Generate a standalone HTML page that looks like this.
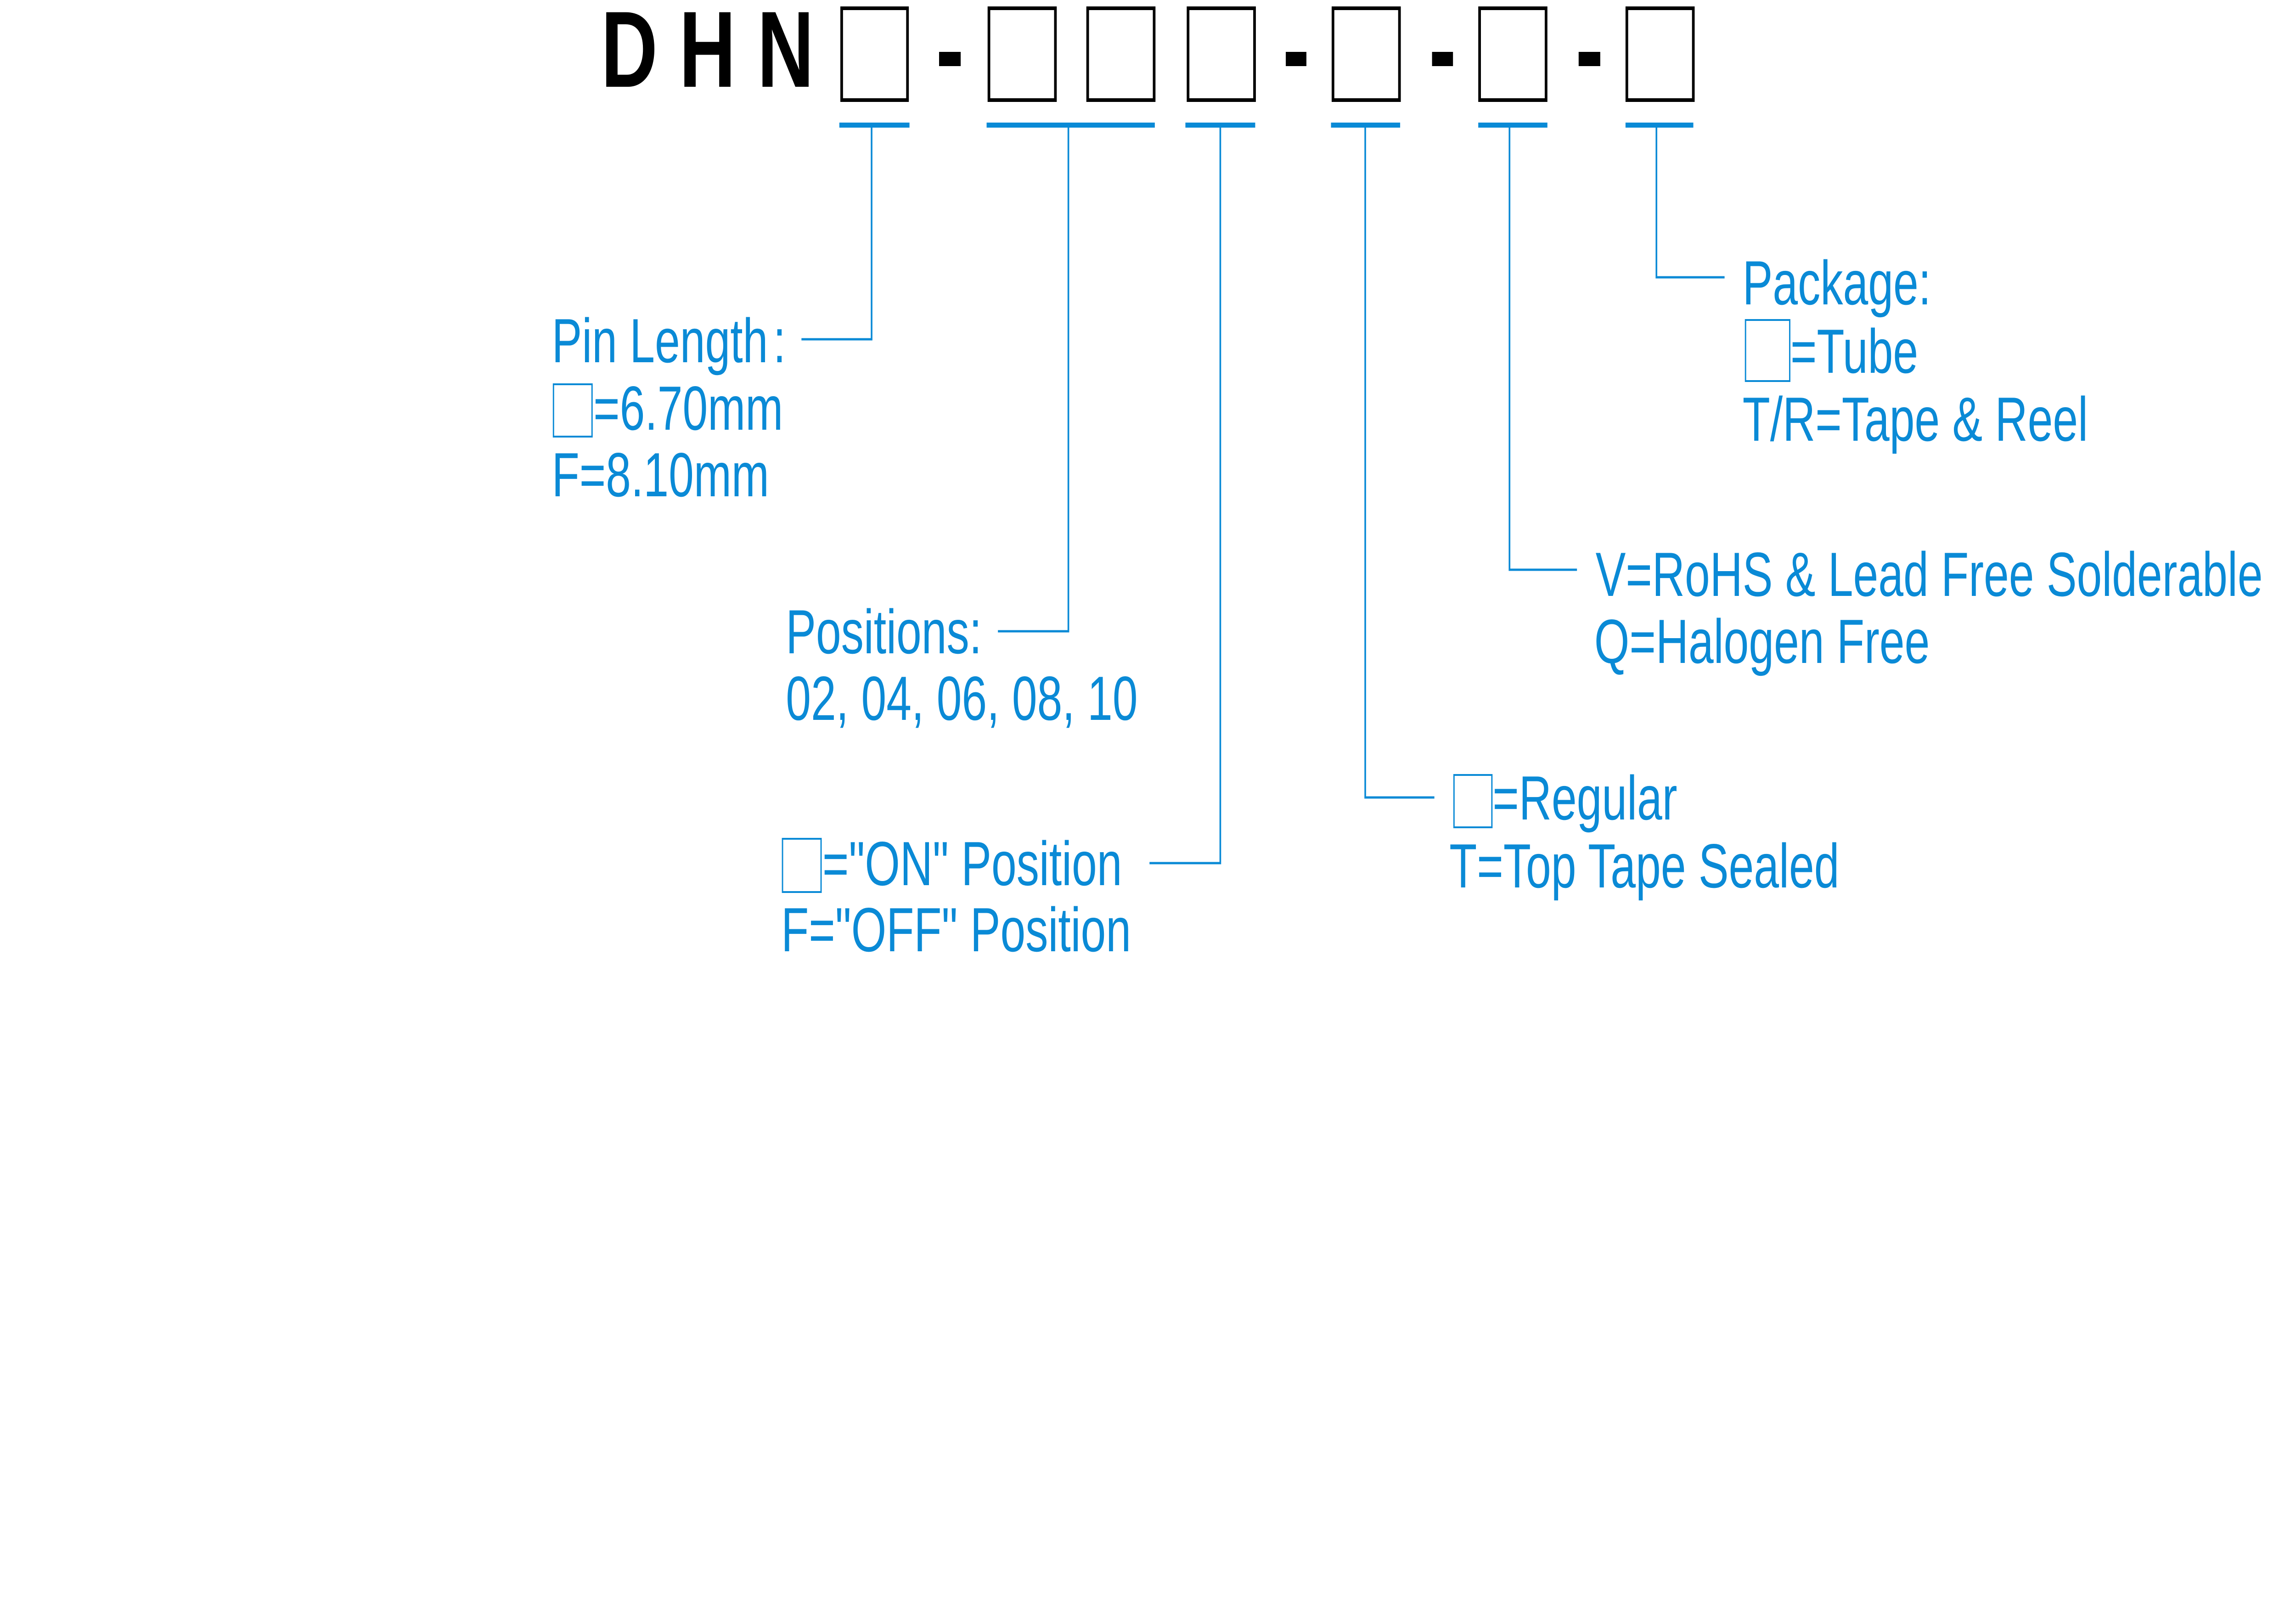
<!DOCTYPE html>
<html><head><meta charset="utf-8"><style>
html,body{margin:0;padding:0;background:#fff;width:100%;height:100%;overflow:hidden;}
svg{display:block;position:absolute;left:0;top:0;width:100vw;height:100vh;}
text{font-family:"Liberation Sans",Arial,sans-serif;}
</style></head><body>
<svg viewBox="0 0 6907 3509" preserveAspectRatio="none" xmlns="http://www.w3.org/2000/svg">
<rect width="6907" height="3509" fill="#fff"/>
<g font-weight="bold" font-size="236" fill="#000">
<text x="1808" y="189">D</text>
<text x="2043" y="189">H</text>
<text x="2278" y="189">N</text>
</g>
<g fill="none" stroke="#000" stroke-width="8">
<rect x="2532" y="18" width="198" height="200"/>
<rect x="2975" y="18" width="200" height="200"/>
<rect x="3272" y="18" width="200" height="200"/>
<rect x="3574" y="18" width="200" height="200"/>
<rect x="4010" y="18" width="200" height="200"/>
<rect x="4451" y="18" width="200" height="200"/>
<rect x="4894" y="18" width="200" height="200"/>
</g>
<g fill="#000">
<rect x="2825" y="113" width="65" height="31"/>
<rect x="3868" y="113" width="62" height="31"/>
<rect x="4308" y="113" width="63" height="31"/>
<rect x="4749" y="113" width="65" height="31"/>
</g>
<g fill="#0a8ad6">
<rect x="2525" y="267" width="211" height="11"/>
<rect x="2968" y="267" width="506" height="11"/>
<rect x="3566" y="267" width="210" height="11"/>
<rect x="4004" y="267" width="208" height="11"/>
<rect x="4447" y="267" width="208" height="11"/>
<rect x="4890" y="267" width="204" height="11"/>
</g>
<g fill="none" stroke="#0a8ad6" stroke-width="5">
<polyline points="2622,278 2622,739 2411,739"/>
<polyline points="3214,278 3214,1375 3002,1375"/>
<polyline points="3671,278 3671,1880 3458,1880"/>
<polyline points="4107,278 4107,1737 4315,1737"/>
<polyline points="4541,278 4541,1241 4744,1241"/>
<polyline points="4983,278 4983,604 5188,604"/>
</g>
<g fill="none" stroke="#0a8ad6" stroke-width="4">
<rect x="1665" y="837" width="116" height="114"/>
<rect x="2354" y="1827" width="116" height="116"/>
<rect x="4374" y="1688" width="114" height="114"/>
<rect x="5251" y="697" width="133" height="133"/>
</g>
<g fill="#0a8ad6" font-size="136">
<text x="1660" y="789">Pin Length</text>
<text x="2326" y="789">:</text>
<text x="1785" y="936">=6.70mm</text>
<text x="1660" y="1081">F=8.10mm</text>
<text x="2364" y="1423">Positions:</text>
<text x="2364" y="1568">02, 04, 06, 08, 10</text>
<text x="2474" y="1928">="ON" Position</text>
<text x="2350" y="2072">F="OFF" Position</text>
<text x="4490" y="1785">=Regular</text>
<text x="4360" y="1933">T=Top Tape Sealed</text>
<text x="4800" y="1298">V=RoHS &amp; Lead Free Solderable</text>
<text x="4796" y="1444">Q=Halogen Free</text>
<text x="5242" y="663">Package:</text>
<text x="5386" y="812">=Tube</text>
<text x="5242" y="960">T/R=Tape &amp; Reel</text>
</g>
</svg>
</body></html>
